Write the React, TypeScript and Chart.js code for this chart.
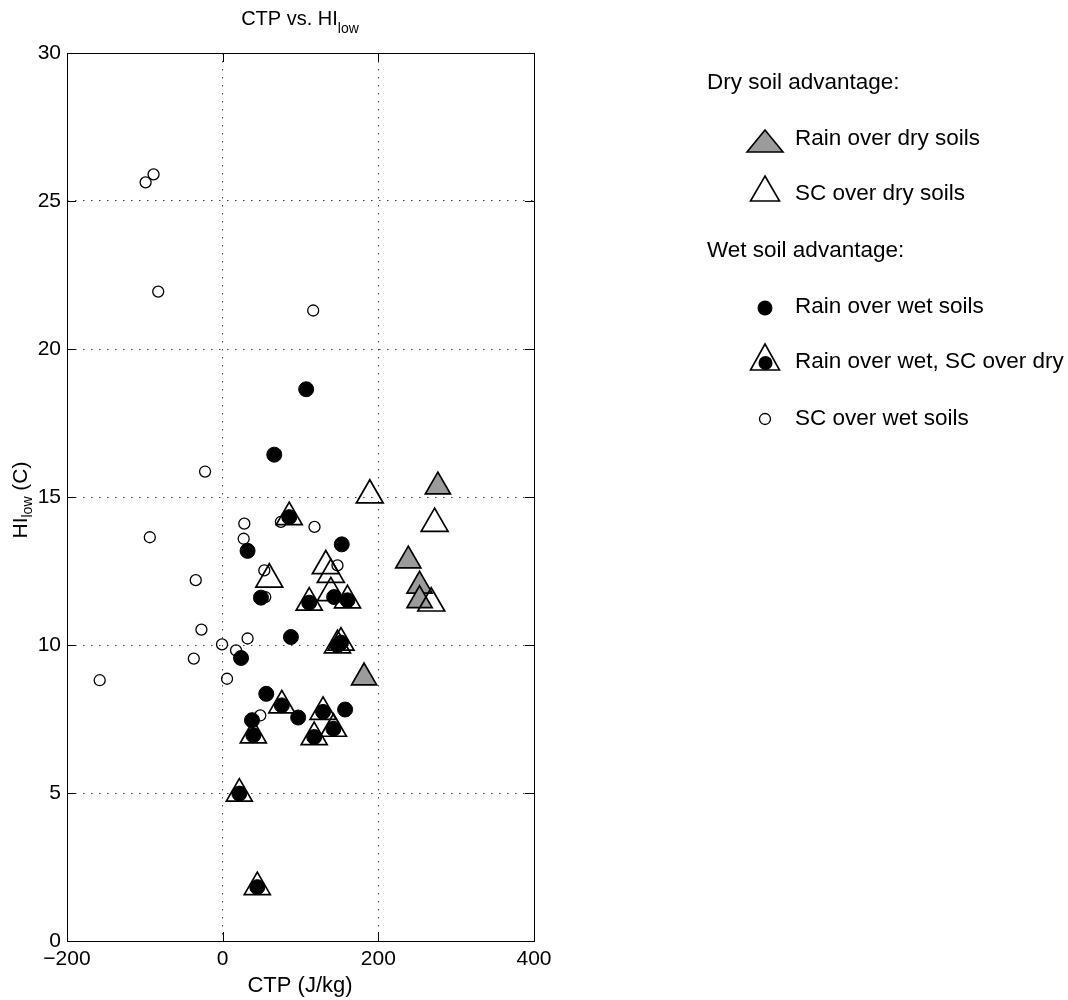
import React, { useEffect, useRef } from 'react';
import { Chart, registerables } from 'chart.js';

Chart.register(...registerables);

// Axis ticks
const xTickValues = [-200, 0, 200, 400];
const yTickValues = [0, 5, 10, 15, 20, 25, 30];

// Dry soil advantage: Rain over dry soils (gray triangles)
const rainDryX = [276.5, 238.5, 253, 253, 181.7];
const rainDryY = [15.35, 12.85, 12.0, 11.51, 8.9];

// Dry soil advantage: SC over dry soils (open triangles)
const scDryX = [189, 272.3, 59.9, 132.5, 139, 139, 268];
const scDryY = [15.06, 14.1, 12.22, 12.67, 12.38, 11.76, 11.41];

// Wet soil advantage: Rain over wet soils (filled circles)
const rainWetX = [107.3, 66.3, 32, 153, 49.2, 143.2, 87.7, 23.6, 56, 97, 157.3, 37.7];
const rainWetY = [18.64, 16.43, 13.18, 13.4, 11.6, 11.62, 10.27, 9.56, 8.35, 7.55, 7.82, 7.46];

// Wet soil advantage: Rain over wet, SC over dry (triangle + filled circle)
const comboX = [85.5, 111.2, 160.4, 147.5, 152, 76, 129, 39.4, 117.6, 142.3, 21.4, 44.5];
const comboY = [14.32, 11.43, 11.51, 9.99, 10.08, 7.96, 7.74, 6.95, 6.89, 7.17, 4.98, 1.82];

// Wet soil advantage: SC over wet soils (open circles)
const scWetX = [-99, -88.8, -82.8, 116.3, -22.6, -93.6, 27.8, 27, 74.8, 118, 53.5, 147.5, -34.6, 54.7, -27.3, 32, -0.8, 17.2, -37.1, -158, 5.6, 48.3];
const scWetY = [25.63, 25.9, 21.94, 21.3, 15.86, 13.64, 14.1, 13.59, 14.16, 13.99, 12.52, 12.69, 12.19, 11.62, 10.52, 10.22, 10.02, 9.82, 9.54, 8.81, 8.86, 7.62];

const FONT = "'Liberation Sans', Arial, Helvetica, sans-serif";
const GRAY = '#9b9b9b';

const pts = (xs: number[], ys: number[]) => xs.map((x, i) => ({ x, y: ys[i] }));

const decorPlugin = {
  id: 'decor',
  afterDatasetsDraw(chart: any) {
    const ctx = chart.ctx as CanvasRenderingContext2D;
    const { left, right, top, bottom } = chart.chartArea;
    const xs = chart.scales.x;
    const ys = chart.scales.y;
    ctx.save();
    ctx.strokeStyle = '#000';
    ctx.lineWidth = 1;
    ctx.setLineDash([]);
    ctx.strokeRect(Math.round(left) + 0.5, Math.round(top) + 0.5, Math.round(right - left), Math.round(bottom - top));
    const tl = 9;
    ctx.beginPath();
    xTickValues.forEach((v) => {
      const px = Math.round(xs.getPixelForValue(v)) + 0.5;
      ctx.moveTo(px, bottom);
      ctx.lineTo(px, bottom - tl);
      ctx.moveTo(px, top);
      ctx.lineTo(px, top + tl);
    });
    yTickValues.forEach((v) => {
      const py = Math.round(ys.getPixelForValue(v)) + 0.5;
      ctx.moveTo(left, py);
      ctx.lineTo(left + tl, py);
      ctx.moveTo(right, py);
      ctx.lineTo(right - tl, py);
    });
    ctx.stroke();
    ctx.restore();
  },
  afterDraw(chart: any) {
    const ctx = chart.ctx as CanvasRenderingContext2D;
    ctx.save();
    ctx.fillStyle = '#000';
    ctx.textBaseline = 'alphabetic';

    // Title: CTP vs. HI_low
    ctx.font = `20px ${FONT}`;
    ctx.textAlign = 'left';
    const t1 = 'CTP vs. HI';
    const w1 = ctx.measureText(t1).width;
    const tx = 300 - (w1 + 21) / 2;
    ctx.fillText(t1, tx, 25);
    ctx.font = `14px ${FONT}`;
    ctx.fillText('low', tx + w1, 33);

    // X axis label
    ctx.font = `22px ${FONT}`;
    ctx.textAlign = 'center';
    ctx.fillText('CTP (J/kg)', 300, 992);

    // Y axis label (rotated)
    ctx.save();
    ctx.translate(27, 0);
    ctx.rotate(-Math.PI / 2);
    ctx.textAlign = 'left';
    ctx.font = `21px ${FONT}`;
    const a = 'HI';
    const wa = ctx.measureText(a).width;
    ctx.font = `14px ${FONT}`;
    const b = 'low';
    const wb = ctx.measureText(b).width;
    ctx.font = `21px ${FONT}`;
    const c = ' (C)';
    const wc = ctx.measureText(c).width;
    const total = wa + wb + wc;
    const start = -(500 + total / 2);
    ctx.fillText(a, start, 0);
    ctx.font = `14px ${FONT}`;
    ctx.fillText(b, start + wa, 5);
    ctx.font = `21px ${FONT}`;
    ctx.fillText(c, start + wa + wb, 0);
    ctx.restore();

    // Legend
    ctx.textAlign = 'left';
    ctx.font = `22.5px ${FONT}`;
    ctx.fillText('Dry soil advantage:', 707, 89);
    ctx.fillText('Rain over dry soils', 795, 145);
    ctx.fillText('SC over dry soils', 795, 200);
    ctx.fillText('Wet soil advantage:', 707, 257);
    ctx.fillText('Rain over wet soils', 795, 313);
    ctx.fillText('Rain over wet, SC over dry', 795, 368);
    ctx.fillText('SC over wet soils', 795, 425);

    ctx.lineWidth = 1.6;
    ctx.strokeStyle = '#000';
    ctx.lineJoin = 'miter';
    // gray triangle
    ctx.beginPath();
    ctx.moveTo(765, 130);
    ctx.lineTo(783, 152);
    ctx.lineTo(747, 152);
    ctx.closePath();
    ctx.fillStyle = GRAY;
    ctx.fill();
    ctx.stroke();
    // open triangle
    ctx.beginPath();
    ctx.moveTo(765, 176);
    ctx.lineTo(779.5, 201);
    ctx.lineTo(750.5, 201);
    ctx.closePath();
    ctx.stroke();
    // filled circle
    ctx.fillStyle = '#000';
    ctx.beginPath();
    ctx.arc(765, 308, 7.5, 0, Math.PI * 2);
    ctx.fill();
    // combo
    ctx.beginPath();
    ctx.moveTo(765, 344);
    ctx.lineTo(779.5, 370);
    ctx.lineTo(750.5, 370);
    ctx.closePath();
    ctx.stroke();
    ctx.beginPath();
    ctx.arc(765.5, 363, 7, 0, Math.PI * 2);
    ctx.fill();
    // open circle
    ctx.lineWidth = 1.3;
    ctx.beginPath();
    ctx.arc(765, 419, 5.5, 0, Math.PI * 2);
    ctx.stroke();

    ctx.restore();
  },
};

export default function App() {
  const ref = useRef<HTMLCanvasElement | null>(null);

  useEffect(() => {
    if (!ref.current) return;
    const chart = new Chart(ref.current, {
      type: 'scatter',
      data: {
        datasets: [
          {
            label: 'Rain over wet, SC over dry (dot)',
            data: pts(comboX, comboY),
            pointStyle: 'circle',
            pointRadius: 7.5,
            backgroundColor: '#000',
            borderColor: '#000',
            borderWidth: 1,
            order: 0,
          },
          {
            label: 'Rain over wet soils',
            data: pts(rainWetX, rainWetY),
            pointStyle: 'circle',
            pointRadius: 7.5,
            backgroundColor: '#000',
            borderColor: '#000',
            borderWidth: 1,
            order: 1,
          },
          {
            label: 'SC over wet soils',
            data: pts(scWetX, scWetY),
            pointStyle: 'circle',
            pointRadius: 5.5,
            backgroundColor: 'rgba(0,0,0,0)',
            borderColor: '#000',
            borderWidth: 1.3,
            order: 2,
          },
          {
            label: 'Rain over wet, SC over dry (triangle)',
            data: pts(comboX, comboY),
            pointStyle: 'triangle',
            pointRadius: 15,
            backgroundColor: 'rgba(0,0,0,0)',
            borderColor: '#000',
            borderWidth: 1.7,
            order: 3,
          },
          {
            label: 'SC over dry soils',
            data: pts(scDryX, scDryY),
            pointStyle: 'triangle',
            pointRadius: 15.5,
            backgroundColor: 'rgba(0,0,0,0)',
            borderColor: '#000',
            borderWidth: 1.7,
            order: 4,
          },
          {
            label: 'Rain over dry soils',
            data: pts(rainDryX, rainDryY),
            pointStyle: 'triangle',
            pointRadius: 14.5,
            backgroundColor: GRAY,
            borderColor: '#000',
            borderWidth: 1.7,
            order: 5,
          },
        ],
      },
      options: {
        animation: false,
        responsive: false,
        maintainAspectRatio: false,
        events: [],
        layout: { padding: { left: 0, top: 53, right: 534, bottom: 0 } },
        plugins: {
          legend: { display: false },
          tooltip: { enabled: false },
          title: { display: false },
        },
        scales: {
          x: {
            type: 'linear',
            min: -200,
            max: 400,
            afterFit: (s: any) => { s.height = 59; },
            afterBuildTicks: (s: any) => { s.ticks = xTickValues.map((v) => ({ value: v })); },
            ticks: {
              color: '#000',
              font: { family: FONT, size: 21 },
              padding: 6,
              maxRotation: 0,
              callback: (v: any) => String(v).replace('-', '\u2212'),
            },
            grid: { color: '#444', lineWidth: 1, drawTicks: false },
            border: { display: false, dash: [1.5, 6.5] },
          },
          y: {
            type: 'linear',
            min: 0,
            max: 30,
            afterFit: (s: any) => { s.width = 67; },
            afterBuildTicks: (s: any) => { s.ticks = yTickValues.map((v) => ({ value: v })); },
            ticks: {
              color: '#000',
              font: { family: FONT, size: 21 },
              padding: 6,
              callback: (v: any) => String(v),
            },
            grid: { color: '#444', lineWidth: 1, drawTicks: false },
            border: { display: false, dash: [1.5, 6.5] },
          },
        },
      },
      plugins: [decorPlugin],
    } as any);
    return () => chart.destroy();
  }, []);

  return (
    <div style={{ position: 'absolute', left: 0, top: 0, width: 1068, height: 1000, background: '#fff' }}>
      <canvas ref={ref} width={1068} height={1000} style={{ display: 'block', width: 1068, height: 1000 }} />
    </div>
  );
}
